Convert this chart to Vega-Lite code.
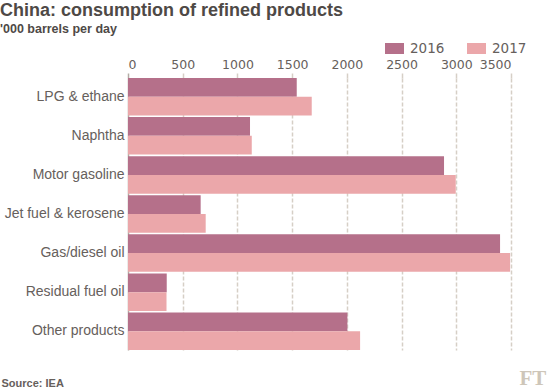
{
  "$schema": "https://vega.github.io/schema/vega-lite/v6.json",
  "width": 383,
  "height": 272,
  "autosize": {"type": "none"},
  "padding": {"left": 128, "top": 78, "right": 39, "bottom": 41},
  "background": "white",
  "title": {
    "text": "China: consumption of refined products",
    "subtitle": "'000 barrels per day",
    "anchor": "start",
    "frame": "group",
    "dx": -128,
    "font": "Liberation Sans",
    "fontSize": 18,
    "fontWeight": "bold",
    "color": "#4e4946",
    "subtitleFont": "Liberation Sans",
    "subtitleFontSize": 12.5,
    "subtitleFontWeight": "bold",
    "subtitleColor": "#4e4946",
    "subtitlePadding": 3,
    "offset": 4
  },
  "data": {
    "values": [
      {"category": "LPG & ethane", "year": "2016", "value": 1542},
      {"category": "LPG & ethane", "year": "2017", "value": 1679},
      {"category": "Naphtha", "year": "2016", "value": 1115},
      {"category": "Naphtha", "year": "2017", "value": 1131},
      {"category": "Motor gasoline", "year": "2016", "value": 2888},
      {"category": "Motor gasoline", "year": "2017", "value": 2995},
      {"category": "Jet fuel & kerosene", "year": "2016", "value": 664},
      {"category": "Jet fuel & kerosene", "year": "2017", "value": 710},
      {"category": "Gas/diesel oil", "year": "2016", "value": 3400},
      {"category": "Gas/diesel oil", "year": "2017", "value": 3492},
      {"category": "Residual fuel oil", "year": "2016", "value": 354},
      {"category": "Residual fuel oil", "year": "2017", "value": 352},
      {"category": "Other products", "year": "2016", "value": 2005},
      {"category": "Other products", "year": "2017", "value": 2121}
    ]
  },
  "mark": {"type": "bar"},
  "encoding": {
    "y": {
      "field": "category",
      "type": "nominal",
      "sort": null,
      "scale": {"paddingInner": 0.04, "paddingOuter": 0},
      "axis": {
        "title": "Source: IEA",
        "titleAngle": 0,
        "titleAlign": "left",
        "titleBaseline": "alphabetic",
        "titleX": -127,
        "titleY": 308,
        "titleFont": "Liberation Sans",
        "titleFontSize": 11,
        "titleFontWeight": "bold",
        "titleColor": "#66605c",
        "ticks": false,
        "domain": false,
        "labelPadding": 4,
        "labelFont": "Liberation Sans",
        "labelFontSize": 14,
        "labelColor": "#66605c",
        "labelLimit": 200
      }
    },
    "yOffset": {"field": "year", "type": "nominal", "scale": {"paddingInner": 0, "paddingOuter": 0}},
    "x": {
      "field": "value",
      "type": "quantitative",
      "scale": {"domain": [0, 3500], "nice": false},
      "axis": {
        "orient": "top",
        "values": [0, 500, 1000, 1500, 2000, 2500, 3000, 3500],
        "format": "d",
        "labelOverlap": false,
        "title": "FT",
        "titleX": 391,
        "titleY": 306,
        "titleAlign": "left",
        "titleBaseline": "alphabetic",
        "titleFont": "Liberation Serif",
        "titleFontSize": 21,
        "titleFontWeight": "bold",
        "titleColor": "#cec6b9",
        "domain": false,
        "grid": true,
        "gridColor": {"condition": {"test": "datum.value === 0", "value": "#b3aca5"}, "value": "#d6cfc6"},
        "gridDash": {"condition": {"test": "datum.value === 0", "value": []}, "value": [4, 2]},
        "gridWidth": 1.5,
        "ticks": true,
        "tickSize": 5,
        "tickColor": {"condition": {"test": "datum.value === 0", "value": "#b3aca5"}, "value": "#d6cfc6"},
        "tickWidth": 1.5,
        "labelPadding": 2,
        "labelFont": "DejaVu Sans",
        "labelFontSize": 12.5,
        "labelColor": "#66605c"
      }
    },
    "color": {
      "field": "year",
      "type": "nominal",
      "scale": {"domain": ["2016", "2017"], "range": ["#b5708a", "#eba7aa"]},
      "legend": {
        "title": null,
        "orient": "none",
        "direction": "horizontal",
        "legendX": 257,
        "legendY": -39,
        "symbolType": "M-1,-0.58H1V0.58H-1Z",
        "symbolSize": 361,
        "symbolStrokeWidth": 0,
        "symbolOpacity": 1,
        "labelOffset": 6,
        "columnPadding": 22,
        "labelFont": "DejaVu Sans",
        "labelFontSize": 13.5,
        "labelColor": "#66605c"
      }
    }
  },
  "config": {"view": {"stroke": null}, "bar": {"opacity": 1}}
}
